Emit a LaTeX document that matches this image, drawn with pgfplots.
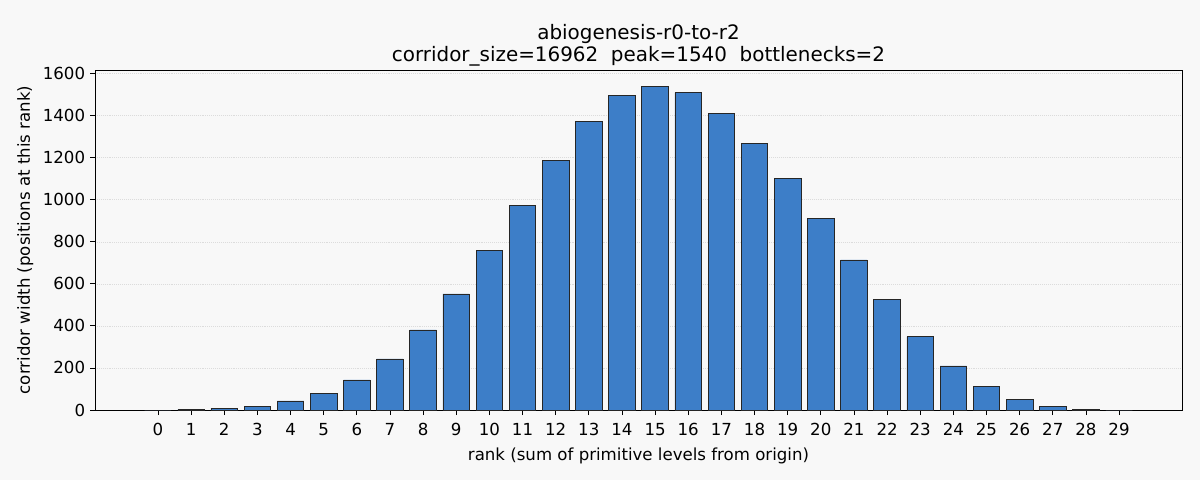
\documentclass[border=0pt]{standalone}
\usepackage{fontspec}
\setmainfont{DejaVu Sans}
\usepackage{pgfplots}
\pgfplotsset{compat=1.18}
\definecolor{bg}{HTML}{F8F8F8}
\definecolor{barblue}{HTML}{3D7EC8}
\definecolor{gridgray}{HTML}{DCDCDC}
\begin{document}
\begin{tikzpicture}[x=1bp,y=1bp]
% 1 px of the reference = 0.72bp
\fill[bg] (0,0) rectangle (864,345.6);
\begin{axis}[
  at={(68.4bp,50.4bp)}, anchor=south west,
  scale only axis,
  width=782.64bp, height=244.8bp,
  xmin=-1.9, xmax=30.9,
  ymin=0, ymax=1617,
  xtick={0,...,29},
  ytick={0,200,...,1600},
  ymajorgrids,
  grid style={gridgray, densely dotted, line width=0.4pt},
  axis line style={line width=0.6pt},
  tick style={black, line width=0.6pt},
  tick align=outside,
  major tick length=3.6bp,
  xtick pos=bottom, ytick pos=left,
  tick label style={font=\fontsize{12}{14}\selectfont},
  xticklabel style={yshift=-2.5bp},
  /pgf/number format/assume math mode=true,
  /pgf/number format/1000 sep={},
  scaled y ticks=false,
  xlabel={rank (sum of primitive levels from origin)},
  ylabel={corridor width (positions at this rank)},
  label style={font=\fontsize{12}{14}\selectfont},
  xlabel style={yshift=-2bp},
  ylabel style={yshift=0bp},
  title={abiogenesis-r0-to-r2\\corridor\_size=16962\ \ peak=1540\ \ bottlenecks=2},
  title style={font=\fontsize{14.4}{16}\selectfont, align=center, yshift=-7bp},
  ybar, bar width=0.8, bar shift=0pt,
]
\addplot[fill=barblue, draw=black!85, line width=0.5pt] coordinates {
  (0,0) (1,4) (2,8) (3,17) (4,43) (5,80) (6,143) (7,243) (8,381) (9,552)
  (10,757) (11,971) (12,1186) (13,1371) (14,1495) (15,1540) (16,1509) (17,1410)
  (18,1267) (19,1100) (20,910) (21,714) (22,524) (23,348) (24,210) (25,114)
  (26,52) (27,16) (28,4) (29,0)
};
\end{axis}
\pgfresetboundingbox
\useasboundingbox (0,0) rectangle (864,345.6);
\end{tikzpicture}
\end{document}
